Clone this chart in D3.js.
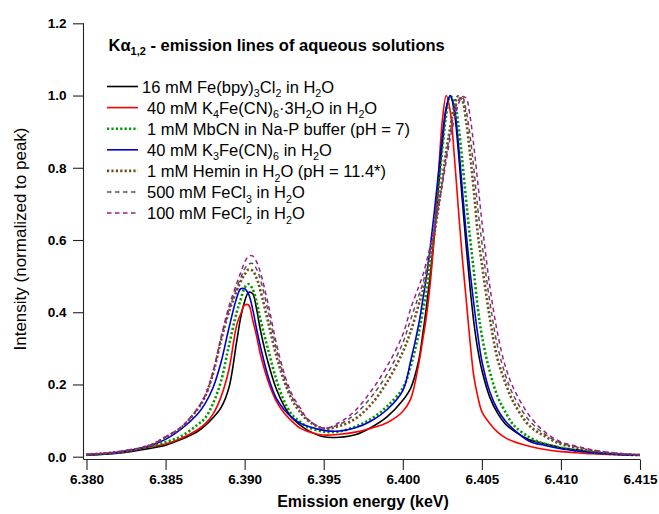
<!DOCTYPE html>
<html>
<head>
<meta charset="utf-8">
<script src="https://cdn.jsdelivr.net/npm/d3@7"></script>
<style>
  html, body { margin: 0; padding: 0; background: #fff; }
  svg { display: block; font-family: "Liberation Sans", Arial, sans-serif; }
</style>
</head>
<body>
<svg id="chart" width="659" height="514"></svg>
<script>
// ---------------- DATA ----------------
const energy = [6.380, 6.382, 6.384, 6.385, 6.386, 6.387, 6.3875, 6.388, 6.3885, 6.389,
  6.3895, 6.38975, 6.390, 6.39025, 6.3905, 6.39075, 6.391, 6.3915, 6.392, 6.3925,
  6.393, 6.3935, 6.394, 6.395, 6.396, 6.397, 6.398, 6.399, 6.400, 6.4005,
  6.401, 6.40125, 6.4015, 6.40175, 6.402, 6.40225, 6.4025, 6.40275, 6.403, 6.40325,
  6.4035, 6.40375, 6.404, 6.40425, 6.4045, 6.40475, 6.405, 6.4055, 6.406, 6.4065,
  6.407, 6.408, 6.409, 6.410, 6.411, 6.412, 6.413, 6.414, 6.415];

const feBpy = [.005, .010, .023, .032, .048, .069, .086, .108, .135, .190,
  .320, .385, .430, .455, .452, .410, .350, .258, .188, .140,
  .107, .088, .073, .055, .054, .061, .081, .110, .156, .190,
  .265, .335, .416, .508, .616, .742, .865, .963, 1.000, .958,
  .853, .718, .588, .470, .370, .295, .240, .165, .120, .090,
  .072, .047, .036, .025, .019, .013, .009, .006, .004];

const k4FeCN = [.005, .012, .027, .035, .051, .074, .091, .118, .165, .240,
  .365, .395, .420, .420, .380, .335, .283, .207, .154, .121,
  .098, .079, .070, .060, .062, .068, .079, .094, .125, .160,
  .255, .320, .390, .486, .615, .777, .930, 1.000, .957, .838,
  .695, .557, .440, .320, .220, .165, .125, .092, .068, .052,
  .042, .029, .020, .014, .011, .008, .006, .005, .004];

const mbCN = [.005, .012, .028, .040, .057, .088, .107, .147, .208, .307,
  .400, .435, .468, .478, .465, .430, .380, .294, .214, .154,
  .116, .097, .082, .069, .070, .083, .105, .139, .190, .250,
  .340, .400, .456, .538, .633, .738, .851, .947, .997, .986,
  .924, .825, .713, .607, .511, .410, .335, .236, .166, .123,
  .088, .054, .035, .025, .017, .012, .008, .006, .004];

const k3FeCN = [.005, .012, .030, .048, .077, .117, .147, .191, .260, .355,
  .440, .465, .465, .450, .410, .355, .305, .220, .162, .130,
  .108, .093, .084, .073, .071, .080, .099, .130, .183, .265,
  .365, .430, .500, .585, .680, .783, .887, .968, 1.000, .967,
  .874, .748, .622, .513, .420, .335, .265, .180, .130, .098,
  .076, .043, .031, .022, .016, .011, .008, .005, .004];

const hemin = [.006, .013, .031, .054, .081, .130, .167, .230, .320, .400,
  .460, .485, .505, .518, .515, .495, .460, .370, .280, .209,
  .157, .124, .100, .078, .085, .105, .145, .206, .290, .347,
  .420, .457, .500, .557, .618, .689, .767, .848, .912, .970,
  .998, .988, .930, .840, .733, .615, .534, .385, .269, .203,
  .151, .086, .056, .035, .025, .016, .011, .007, .005];

const feCl3 = [.006, .013, .031, .054, .082, .131, .168, .232, .325, .405,
  .468, .495, .520, .533, .535, .520, .490, .400, .300, .220,
  .165, .130, .102, .079, .090, .118, .165, .228, .315, .380,
  .445, .478, .520, .571, .627, .690, .760, .835, .898, .952,
  .985, .998, .960, .890, .795, .685, .593, .430, .305, .225,
  .170, .100, .062, .038, .027, .017, .011, .007, .005];

const feCl2 = [.006, .014, .032, .055, .083, .133, .170, .235, .330, .415,
  .480, .510, .538, .555, .556, .540, .510, .420, .315, .231,
  .172, .136, .104, .079, .095, .128, .182, .250, .338, .410,
  .470, .500, .540, .586, .637, .694, .754, .820, .882, .931,
  .974, .997, .993, .943, .857, .756, .652, .473, .340, .248,
  .190, .114, .068, .041, .029, .019, .012, .008, .005];

const xTicks = [6.380, 6.385, 6.390, 6.395, 6.400, 6.405, 6.410, 6.415];
const yTicks = [0.0, 0.2, 0.4, 0.6, 0.8, 1.0, 1.2];

const seriesLabels = [
  "16 mM Fe(bpy)_3Cl_2 in H_2O",
  "40 mM K_4Fe(CN)_6\u00B73H_2O in H_2O",
  "1 mM MbCN in Na-P buffer (pH = 7)",
  "40 mM K_3Fe(CN)_6 in H_2O",
  "1 mM Hemin in H_2O (pH = 11.4*)",
  "500 mM FeCl_3 in H_2O",
  "100 mM FeCl_2 in H_2O"
];
const seriesValues = [feBpy, k4FeCN, mbCN, k3FeCN, hemin, feCl3, feCl2];

// styles
const styles = [
  { color: "#000000", dash: null, width: 1.6 },
  { color: "#ff0000", dash: null, width: 1.6 },
  { color: "#009a00", dash: "2.2,2.2", width: 2.6 },
  { color: "#0000d0", dash: null, width: 1.6 },
  { color: "#6e5020", dash: "2.2,2.2", width: 2.6 },
  { color: "#555555", dash: "4.5,3.5", width: 1.5 },
  { color: "#a01c8c", dash: "4.5,3.5", width: 1.5 }
];

// ---------------- CHART ----------------
const svg = d3.select("#chart");
const x = d3.scaleLinear().domain([6.380, 6.415]).range([86.5, 640]);
const y = d3.scaleLinear().domain([0, 1.2]).range([456.7, 23.3]);
const axisX0 = 83.5, axisY0 = 459.5;

// axes lines
svg.append("line").attr("x1", axisX0).attr("x2", axisX0).attr("y1", y(1.2)).attr("y2", axisY0)
  .attr("stroke", "#222").attr("stroke-width", 1.1);
svg.append("line").attr("x1", axisX0).attr("x2", x(6.415)).attr("y1", axisY0).attr("y2", axisY0)
  .attr("stroke", "#222").attr("stroke-width", 1.1);

const yAxis = svg.append("g").attr("transform", `translate(${axisX0},0)`)
  .call(d3.axisLeft(y).tickValues(yTicks).tickFormat(d3.format(".1f"))
    .tickSize(10.5).tickSizeOuter(0).tickPadding(6.5));
yAxis.select(".domain").remove();
yAxis.selectAll("line").attr("stroke", "#222").attr("stroke-width", 1.1);
yAxis.selectAll("text").attr("font-family", "Liberation Sans, Arial, sans-serif")
  .attr("font-size", 13.5).attr("font-weight", "bold").attr("fill", "#000");

const xAxis = svg.append("g").attr("transform", `translate(0,${axisY0})`)
  .call(d3.axisBottom(x).tickValues(xTicks).tickFormat(d3.format(".3f"))
    .tickSize(10.5).tickSizeOuter(0).tickPadding(4));
xAxis.select(".domain").remove();
xAxis.selectAll("line").attr("stroke", "#222").attr("stroke-width", 1.1);
xAxis.selectAll("text").attr("font-family", "Liberation Sans, Arial, sans-serif")
  .attr("font-size", 13.5).attr("font-weight", "bold").attr("fill", "#000");

// axis titles
svg.append("text").attr("x", 363).attr("y", 507).attr("text-anchor", "middle")
  .attr("font-size", 16).attr("font-weight", "bold").text("Emission energy (keV)");
svg.append("text").attr("transform", "translate(26,239) rotate(-90)").attr("text-anchor", "middle")
  .attr("font-size", 17).text("Intensity (normalized to peak)");

// curves
const line = d3.line()
  .x((d, i) => x(energy[i]))
  .y(d => y(d))
  .curve(d3.curveCatmullRom.alpha(0.5));

seriesValues.forEach((vals, k) => {
  const st = styles[k];
  svg.append("path").datum(vals)
    .attr("d", line)
    .attr("fill", "none")
    .attr("stroke", st.color)
    .attr("stroke-width", st.width)
    .attr("stroke-dasharray", st.dash)
    .attr("stroke-linejoin", "round");
});

// rich text with subscripts: "_d" => subscript digit
function richText(sel, str, size) {
  const parts = str.split(/(_\d)/).filter(p => p.length);
  let wasSub = false;
  parts.forEach(p => {
    if (p.startsWith("_")) {
      sel.append("tspan").attr("font-size", size * 0.65).attr("dy", wasSub ? 0 : size * 0.28).text(p.slice(1));
      wasSub = true;
    } else {
      sel.append("tspan").attr("font-size", size).attr("dy", wasSub ? -size * 0.28 : 0).text(p);
      wasSub = false;
    }
  });
}

// title
const title = svg.append("text").attr("x", 108.5).attr("y", 50.5).attr("font-weight", "bold").attr("font-size", 16.5);
title.append("tspan").text("K\u03B1");
title.append("tspan").attr("font-size", 11).attr("dy", 4.5).text("1,2");
title.append("tspan").attr("dy", -4.5).text(" - emission lines of aqueous solutions");

// legend
const legendTop = 86.5, legendStep = 21.1;
seriesLabels.forEach((lab, k) => {
  const st = styles[k];
  const cy = legendTop + k * legendStep;
  svg.append("line").attr("x1", 107).attr("x2", 138).attr("y1", cy).attr("y2", cy)
    .attr("stroke", st.color).attr("stroke-width", st.width).attr("stroke-dasharray", st.dash);
  const t = svg.append("text").attr("x", k === 0 ? 142 : 147).attr("y", cy + 6).attr("font-size", 16.5);
  richText(t, lab, 16.5);
});
</script>
</body>
</html>
